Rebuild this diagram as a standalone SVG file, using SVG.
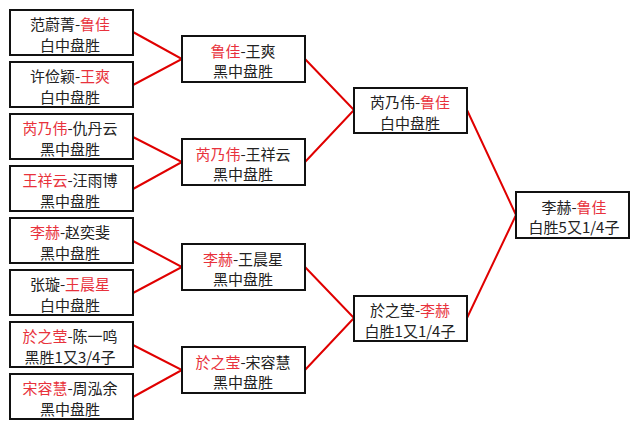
<svg xmlns="http://www.w3.org/2000/svg" width="639" height="429" viewBox="0 0 639 429">
<style>
.box{fill:#fff;stroke:#111;stroke-width:2}
.t{font-family:"Noto Sans CJK SC","Noto Sans",sans-serif;font-size:15px;fill:#222;text-anchor:middle}
.r{fill:#e8323c}
.c{stroke:#e00000;stroke-width:2;fill:none}
</style>
<rect width="639" height="429" fill="#fff"/>
<g id="connectors">
<polyline class="c" points="133,32 182,59 133,85"/>
<polyline class="c" points="133,137 182,162 133,189"/>
<polyline class="c" points="133,241 182,267 133,293"/>
<polyline class="c" points="133,345 182,370 133,397"/>
<polyline class="c" points="305,59 354,110 305,162"/>
<polyline class="c" points="305,267 354,318 305,370"/>
<polyline class="c" points="467,110 516,215 467,318"/>
</g>
<g id="n1"><rect class="box" x="10" y="10" width="123" height="45"/><text class="t" x="70" y="30">范蔚菁-<tspan class="r">鲁佳</tspan></text><text class="t" x="70" y="51">白中盘胜</text></g>
<g id="n2"><rect class="box" x="10" y="62" width="123" height="45"/><text class="t" x="70" y="82">许俭颖-<tspan class="r">王爽</tspan></text><text class="t" x="70" y="103">白中盘胜</text></g>
<g id="n3"><rect class="box" x="10" y="114" width="123" height="45"/><text class="t" x="70" y="134"><tspan class="r">芮乃伟</tspan>-仇丹云</text><text class="t" x="70" y="155">黑中盘胜</text></g>
<g id="n4"><rect class="box" x="10" y="166" width="123" height="45"/><text class="t" x="70" y="186"><tspan class="r">王祥云</tspan>-汪雨博</text><text class="t" x="70" y="207">黑中盘胜</text></g>
<g id="n5"><rect class="box" x="10" y="218" width="123" height="45"/><text class="t" x="70" y="238"><tspan class="r">李赫</tspan>-赵奕斐</text><text class="t" x="70" y="259">黑中盘胜</text></g>
<g id="n6"><rect class="box" x="10" y="270" width="123" height="45"/><text class="t" x="70" y="290">张璇-<tspan class="r">王晨星</tspan></text><text class="t" x="70" y="311">白中盘胜</text></g>
<g id="n7"><rect class="box" x="10" y="322" width="123" height="45"/><text class="t" x="70" y="342"><tspan class="r">於之莹</tspan>-陈一鸣</text><text class="t" x="70" y="363">黑胜1又3/4子</text></g>
<g id="n8"><rect class="box" x="10" y="374" width="123" height="45"/><text class="t" x="70" y="394"><tspan class="r">宋容慧</tspan>-周泓余</text><text class="t" x="70" y="415">黑中盘胜</text></g>
<g id="s1"><rect class="box" x="182" y="36" width="123" height="46"/><text class="t" x="243" y="57"><tspan class="r">鲁佳</tspan>-王爽</text><text class="t" x="243" y="77">黑中盘胜</text></g>
<g id="s2"><rect class="box" x="182" y="139" width="123" height="46"/><text class="t" x="243" y="160"><tspan class="r">芮乃伟</tspan>-王祥云</text><text class="t" x="243" y="180">黑中盘胜</text></g>
<g id="s3"><rect class="box" x="182" y="244" width="123" height="46"/><text class="t" x="243" y="265"><tspan class="r">李赫</tspan>-王晨星</text><text class="t" x="243" y="285">黑中盘胜</text></g>
<g id="s4"><rect class="box" x="182" y="347" width="123" height="46"/><text class="t" x="243" y="368"><tspan class="r">於之莹</tspan>-宋容慧</text><text class="t" x="243" y="388">黑中盘胜</text></g>
<g id="f1"><rect class="box" x="354" y="88" width="113" height="45"/><text class="t" x="410" y="108">芮乃伟-<tspan class="r">鲁佳</tspan></text><text class="t" x="410" y="129">白中盘胜</text></g>
<g id="f2"><rect class="box" x="354" y="296" width="113" height="45"/><text class="t" x="410" y="316">於之莹-<tspan class="r">李赫</tspan></text><text class="t" x="410" y="337">白胜1又1/4子</text></g>
<g id="final"><rect class="box" x="516" y="192" width="113" height="46"/><text class="t" x="574" y="213">李赫-<tspan class="r">鲁佳</tspan></text><text class="t" x="574" y="233">白胜5又1/4子</text></g>
</svg>
